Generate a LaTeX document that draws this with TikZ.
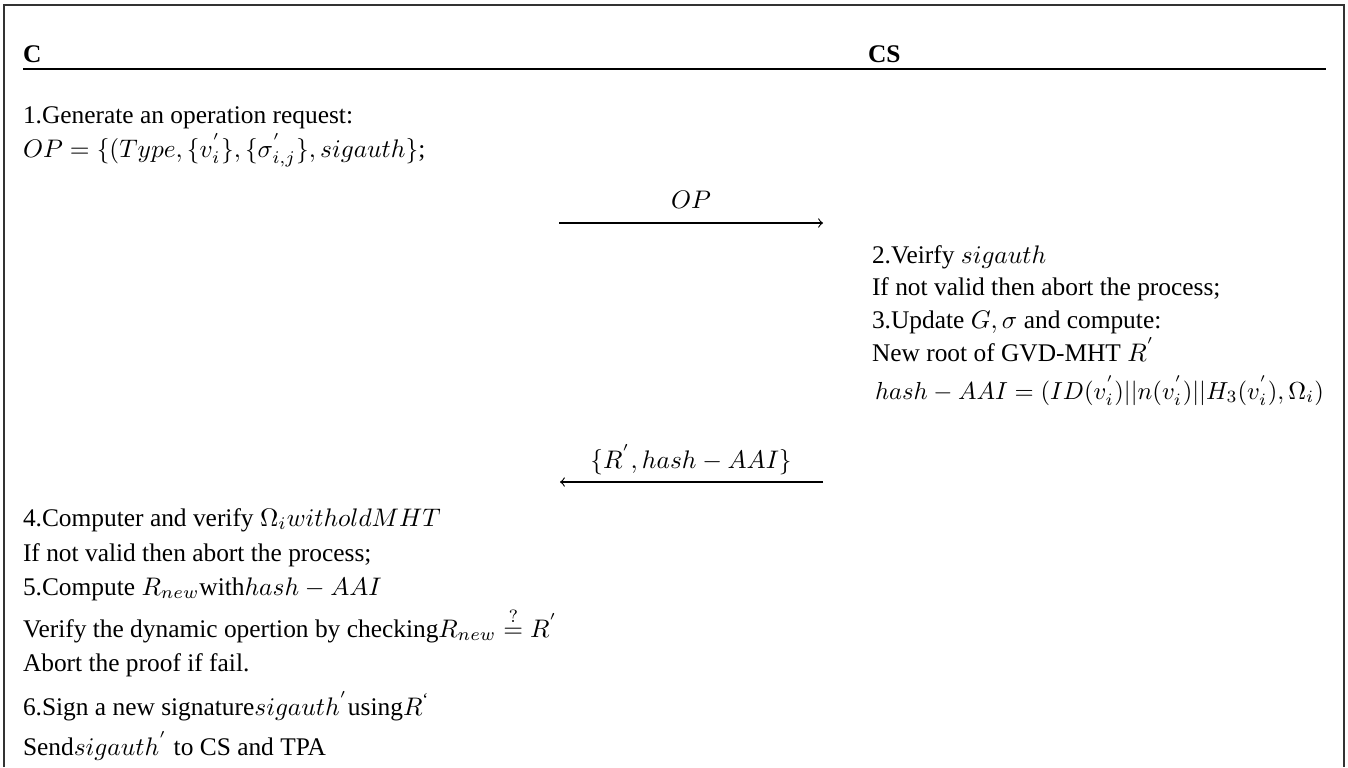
\documentclass[tikz,border=0pt]{standalone}
\usepackage{fontspec}
\setmainfont{Liberation Serif}
\begin{document}
\begin{tikzpicture}[x=0.3937pt,y=-0.3937pt,
  txt/.style={anchor=base west,inner sep=0pt,outer sep=0pt},
  lbl/.style={anchor=base,inner sep=0pt,outer sep=0pt},
  msg/.style={->,line width=0.45pt},
  frame/.style={line width=0.7pt,draw=black!80}]
\useasboundingbox (0,0) rectangle (1348,767);
% frame
\draw[frame] (4,767) -- (4,5) -- (1344,5) -- (1344,767);
% header
\node[txt] (hc) at (23,62) {\textbf{C}};
\node[txt] (hcs) at (868,62) {\textbf{CS}};
\coordinate (hl) at (23,69);
\coordinate (hr) at (1326,69);
\draw[line width=0.8pt] (hl) -- (hr);
% client step 1
\node[txt] (c1) at (23,123) {1.Generate an operation request:};
\node[txt] (c2) at (23,157) {$OP=\{(Type,\{v_i^{'}\},\{\sigma_{i,j}^{'}\},sigauth\}$;};
% message OP
\coordinate (a1s) at (559,223);
\coordinate (a1e) at (823,223);
\draw[msg] (a1s) -- (a1e);
\node[lbl] (m1) at (691,208) {$OP$};
% server
\node[txt] (s1) at (872,263) {2.Veirfy $sigauth$};
\node[txt] (s2) at (872,295) {If not valid then abort the process;};
\node[txt] (s3) at (872,328) {3.Update $G,\sigma$ and compute:};
\node[txt] (s4) at (872,361) {New root of GVD-MHT $R^{'}$};
\node[txt,scale=0.97] (s5) at (875,399) {$hash-AAI=(ID(v_i^{'})||n(v_i^{'})||H_3(v_i^{'}),\Omega_i)$};
% message back
\coordinate (a2s) at (823,482);
\coordinate (a2e) at (560,482);
\draw[msg] (a2s) -- (a2e);
\node[lbl] (m2) at (691,468) {$\{R^{'},hash-AAI\}$};
% client steps 4-6
\node[txt] (c3) at (23,526) {4.Computer and verify $\Omega_i witholdMHT$};
\node[txt] (c4) at (23,561) {If not valid then abort the process;};
\node[txt] (c5) at (23,595) {5.Compute $R_{new}$with$hash-AAI$};
\node[txt] (c6) at (23,637) {Verify the dynamic opertion by checking$R_{new}\stackrel{?}{=}R^{'}$};
\node[txt] (c7) at (23,671) {Abort the proof if fail.};
\node[txt] (c8) at (23,715) {6.Sign a new signature$sigauth^{'}$using$R^{`}$};
\node[txt] (c9) at (23,755) {Send$sigauth^{'}$ to CS and TPA};
\end{tikzpicture}
\end{document}
